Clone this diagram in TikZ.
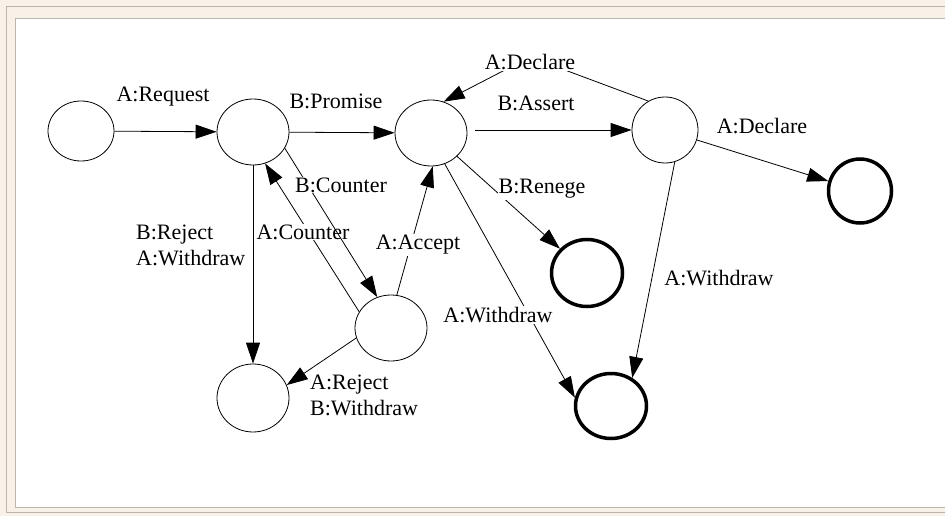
\documentclass[tikz,border=0pt]{standalone}
\usepackage{fontspec}
\setmainfont{Liberation Serif}
\newfontfamily\lblfont{Liberation Serif}
\usetikzlibrary{shapes.geometric,arrows.meta}
\definecolor{framebg}{HTML}{F7F1E8}
\definecolor{frameline}{HTML}{BDB6AE}
\begin{document}
\begin{tikzpicture}[x=1pt,y=-1pt,
  st/.style={ellipse,draw,line width=0.8pt,minimum width=72pt,minimum height=66pt,inner sep=0pt},
  fin/.style={st,line width=3.5pt},
  lbl/.style={fill=white,inner sep=1pt,font=\lblfont\fontsize{22}{26}\selectfont},
  edge/.style={line width=0.8pt,-{Triangle[length=21pt,width=14pt]}}]
\useasboundingbox (0,0) rectangle (945,516);
% frame
\fill[framebg] (0,0) rectangle (945,516);
\draw[frameline,line width=1pt] (6,7) rectangle (960,512);
\filldraw[fill=white,draw=frameline,line width=1pt] (15,19) rectangle (960,507);
% states
\node[st,minimum width=66pt,minimum height=60pt] (n1) at (81,131) {};
\node[st] (n2) at (253,132) {};
\node[st] (n3) at (431,133) {};
\node[st,minimum width=66pt] (n4) at (665,130) {};
\node[fin,minimum width=63pt,minimum height=64pt] (n5) at (860,191) {};
\node[fin,minimum width=71pt,minimum height=67pt] (n6) at (587,273) {};
\node[fin,minimum width=71pt,minimum height=65pt] (n7) at (611,406) {};
\node[st] (n8) at (391,328) {};
\node[st,minimum height=68pt] (n9) at (253,398) {};
\coordinate (bend) at (530,57);
% edges
\draw[edge] (n1) -- (n2);
\draw[edge] (n2) -- (n3);
\draw[edge] ([shift={(8,-3)}]n3.east) -- (n4.west);
\draw[edge] (n4.120) -- (bend) -- (n3.68);
\draw[edge] (n4) -- (n5);
\draw[edge] (n3) -- (n6);
\draw[edge] (n3.-66) -- (n7.167);
\draw[edge] (n4.-73) -- (n7.53);
\draw[edge] (n2.south) -- (n9.north);
\draw[edge] (n8.153) -- (n2.-69);
\draw[edge] (n8.80) -- (n3.-87);
\draw[edge] (n8.196) -- (n9.21);
% labels
\node[lbl] (lreq) at (163,97) {A:Request};
\node[lbl] (lprom) at (336,101) {B:Promise};
\node[lbl] (lacnt) at (303,232) {A:Counter};
\node[lbl,align=left,anchor=west] (lrej) at (135,245) {B:Reject\\A:Withdraw};
\node[lbl] (lacc) at (418,245) {A:Accept};
\node[lbl,align=left,anchor=west] (larej) at (309,395) {A:Reject\\B:Withdraw};
\node[lbl] (ldecl) at (530,62) {A:Declare};
\node[lbl] (lass) at (536,103) {B:Assert};
\node[lbl] (ldecl2) at (762,126) {A:Declare};
\node[lbl] (lren) at (542,189) {B:Renege};
\node[lbl] (lwd1) at (719,278) {A:Withdraw};
\node[lbl] (lwd2) at (498,315) {A:Withdraw};
% B:Counter edge over the A:Counter label
\draw[edge] (n2.-27) -- (n8.114);
\node[lbl] (lbcnt) at (341,185) {B:Counter};
\end{tikzpicture}
\end{document}
